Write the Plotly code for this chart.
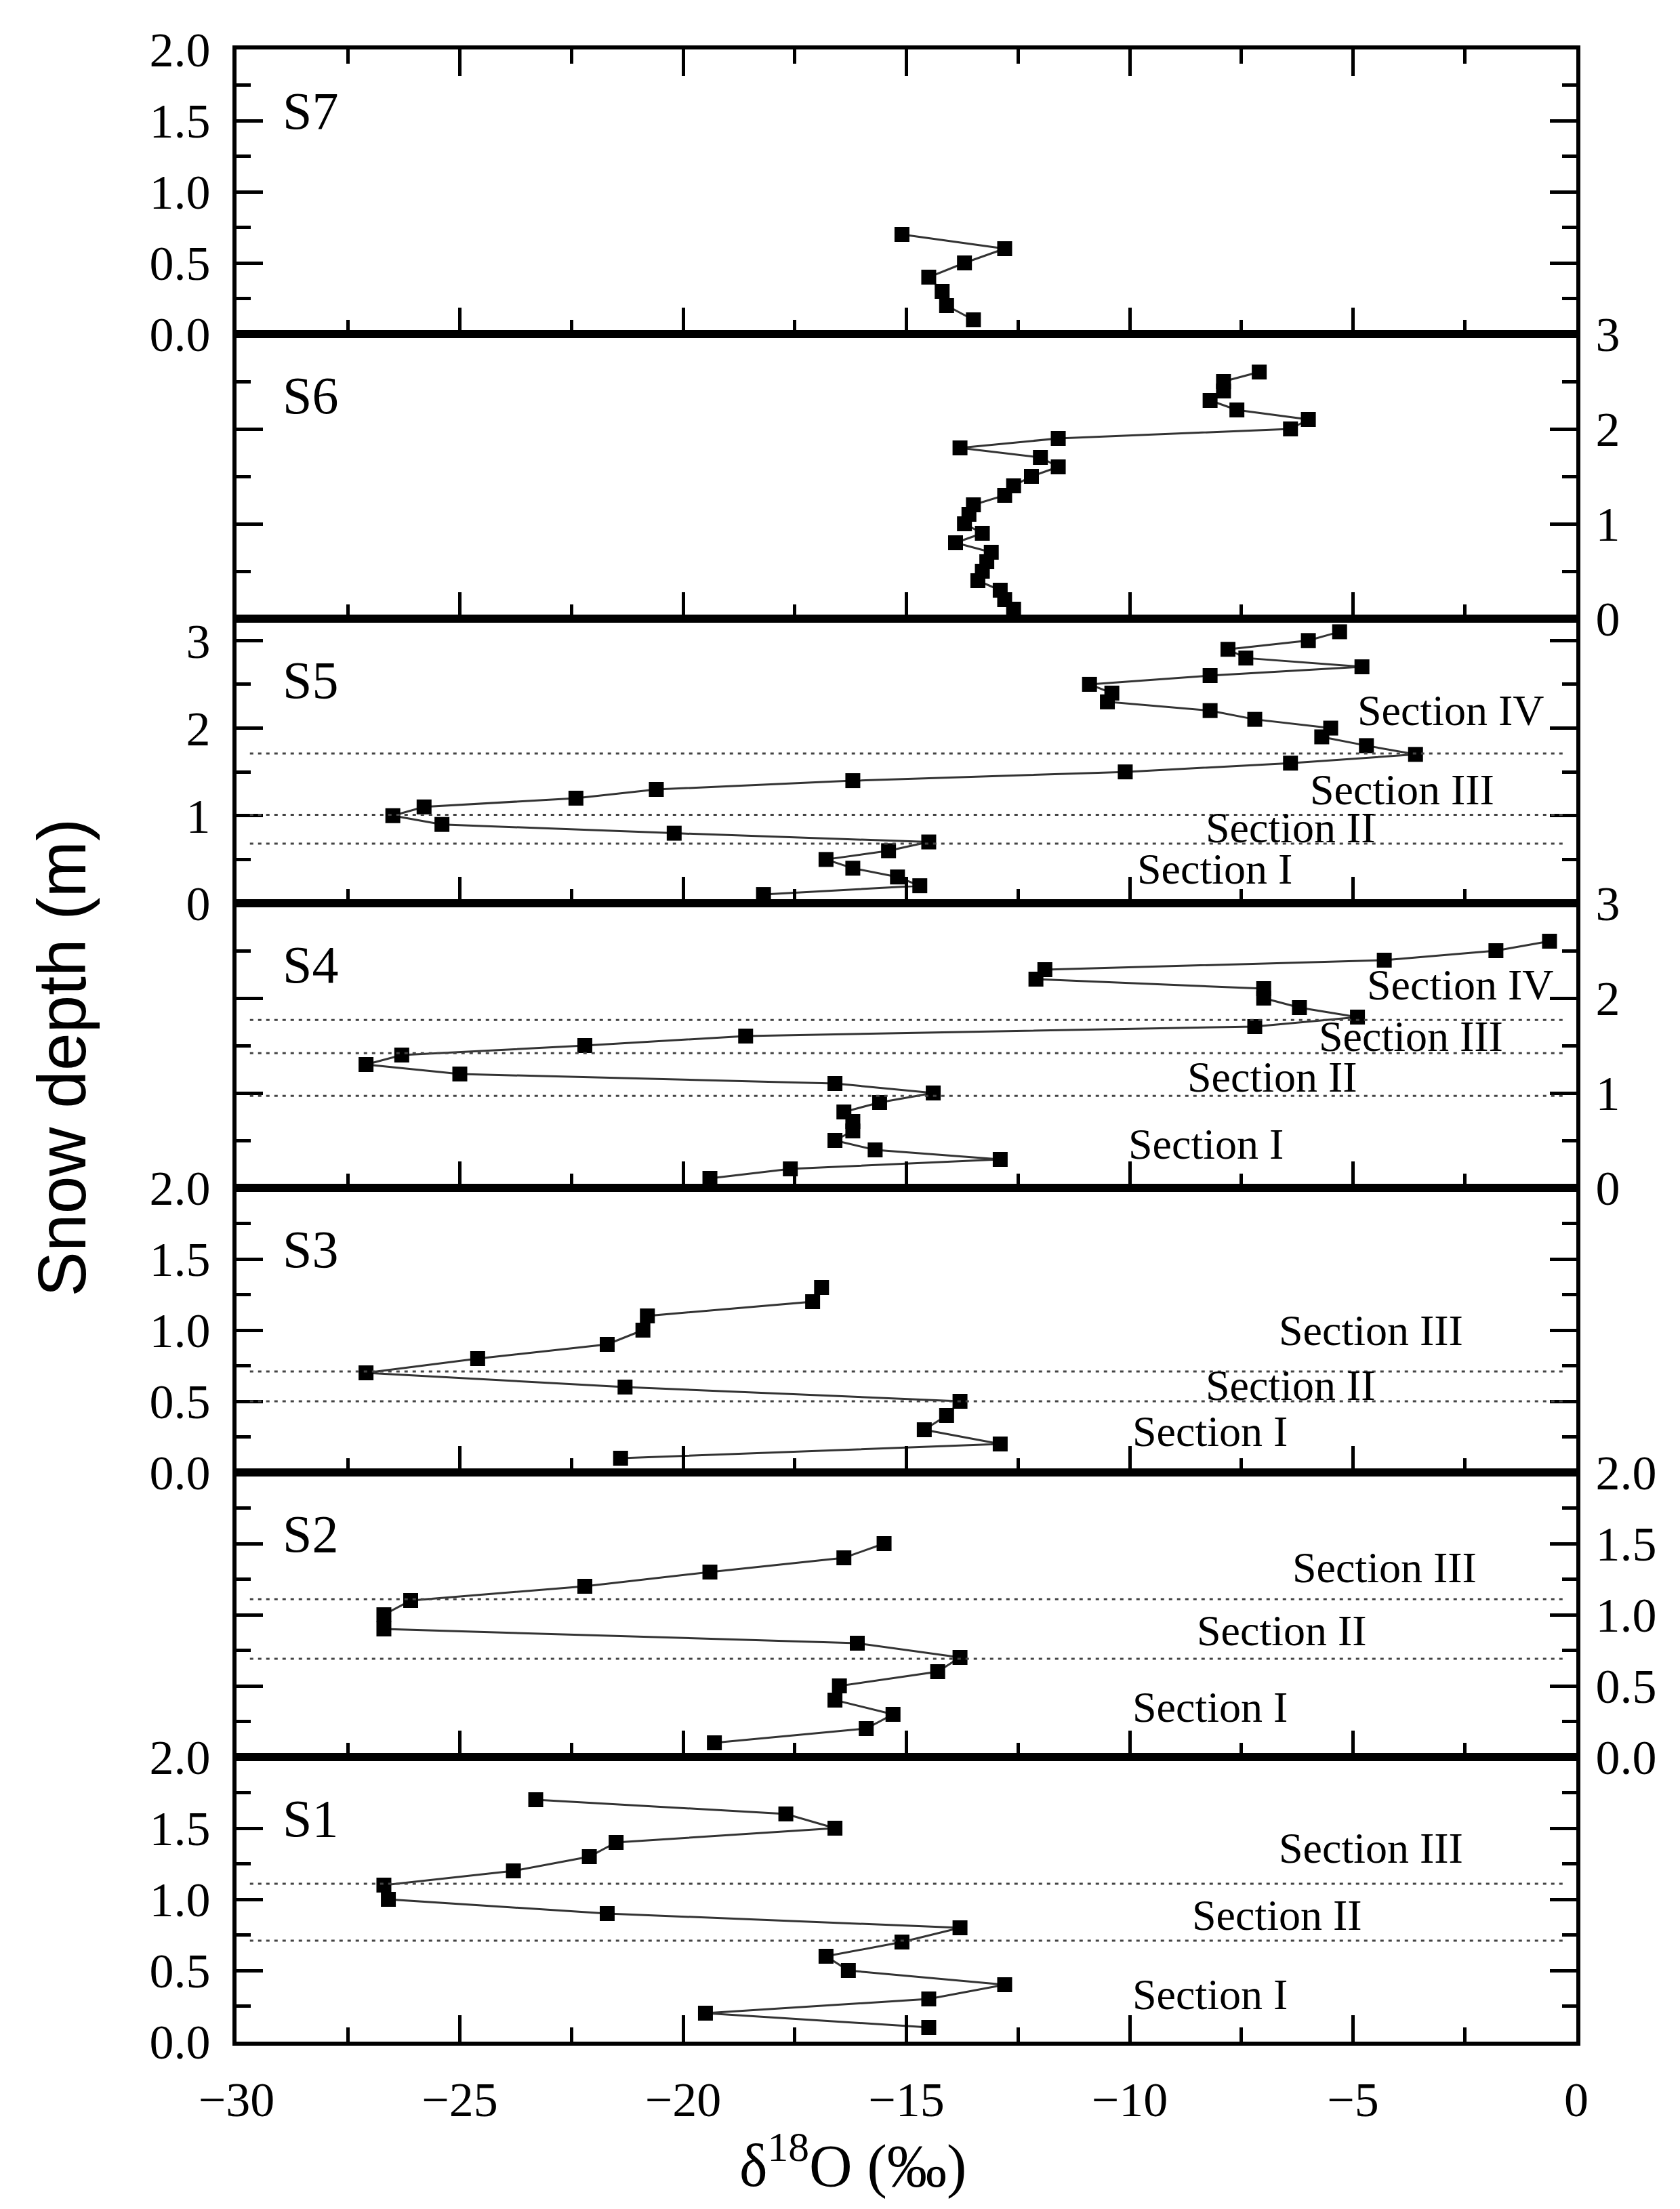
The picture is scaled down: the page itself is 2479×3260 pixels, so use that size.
import plotly.graph_objects as go
from plotly.subplots import make_subplots

# panels from top to bottom
panels = ["S7", "S6", "S5", "S4", "S3", "S2", "S1"]

s7_depth = [0.7, 0.6, 0.5, 0.4, 0.3, 0.2, 0.1]
s7_d18o = [-15.1, -12.8, -13.7, -14.5, -14.2, -14.1, -13.5]

s6_depth = [2.6, 2.5, 2.4, 2.3, 2.2, 2.1, 2.0, 1.9, 1.8, 1.7, 1.6, 1.5, 1.4,
            1.3, 1.2, 1.1, 1.0, 0.9, 0.8, 0.7, 0.6, 0.5, 0.4, 0.3, 0.2, 0.1]
s6_d18o = [-7.1, -7.9, -7.9, -8.2, -7.6, -6.0, -6.4, -11.6, -13.8, -12.0,
           -11.6, -12.2, -12.6, -12.8, -13.5, -13.6, -13.7, -13.3, -13.9,
           -13.1, -13.2, -13.3, -13.4, -12.9, -12.8, -12.6]

s5_depth = [3.1, 3.0, 2.9, 2.8, 2.7, 2.6, 2.5, 2.4, 2.3, 2.2, 2.1, 2.0, 1.9,
            1.8, 1.7, 1.6, 1.5, 1.4, 1.3, 1.2, 1.1, 1.0, 0.9, 0.8, 0.7, 0.6,
            0.5, 0.4, 0.3, 0.2, 0.1]
s5_d18o = [-5.3, -6.0, -7.8, -7.4, -4.8, -8.2, -10.9, -10.4, -10.5, -8.2,
           -7.2, -5.5, -5.7, -4.7, -3.6, -6.4, -10.1, -16.2, -20.6, -22.4,
           -25.8, -26.5, -25.4, -20.2, -14.5, -15.4, -16.8, -16.2, -15.2,
           -14.7, -18.2]

s4_depth = [2.6, 2.5, 2.4, 2.3, 2.2, 2.1, 2.0, 1.9, 1.8, 1.7, 1.6, 1.5, 1.4,
            1.3, 1.2, 1.1, 1.0, 0.9, 0.8, 0.7, 0.6, 0.5, 0.4, 0.3, 0.2, 0.1]
s4_d18o = [-0.6, -1.8, -4.3, -11.9, -12.1, -7.0, -7.0, -6.2, -4.9, -7.2,
           -18.6, -22.2, -26.3, -27.1, -25.0, -16.6, -14.4, -15.6, -16.4,
           -16.2, -16.2, -16.6, -15.7, -12.9, -17.6, -19.4]

s3_depth = [1.3, 1.2, 1.1, 1.0, 0.9, 0.8, 0.7, 0.6, 0.5, 0.4, 0.3, 0.2, 0.1]
s3_d18o = [-16.9, -17.1, -20.8, -20.9, -21.7, -24.6, -27.1, -21.3, -13.8,
           -14.1, -14.6, -12.9, -21.4]

s2_depth = [1.5, 1.4, 1.3, 1.2, 1.1, 1.0, 0.9, 0.8, 0.7, 0.6, 0.5, 0.4, 0.3,
            0.2, 0.1]
s2_d18o = [-15.5, -16.4, -19.4, -22.2, -26.1, -26.7, -26.7, -16.1, -13.8,
           -14.3, -16.5, -16.6, -15.3, -15.9, -19.3]

s1_depth = [1.7, 1.6, 1.5, 1.4, 1.3, 1.2, 1.1, 1.0, 0.9, 0.8, 0.7, 0.6, 0.5,
            0.4, 0.3, 0.2, 0.1]
s1_d18o = [-23.3, -17.7, -16.6, -21.5, -22.1, -23.8, -26.7, -26.6, -21.7,
           -13.8, -15.1, -16.8, -16.3, -12.8, -14.5, -19.5, -14.5]

# dotted section boundaries (m)
s5_bounds = [1.71, 1.01, 0.68]
s4_bounds = [1.77, 1.42, 0.97]
s3_bounds = [0.71, 0.50]
s2_bounds = [1.11, 0.69]
s1_bounds = [1.11, 0.71]

# section labels: (text, d18O, depth)
s5_labels = [("Section IV", -2.8, 2.2), ("Section III", -3.9, 1.3),
             ("Section II", -6.4, 0.86), ("Section I", -8.1, 0.39)]
s4_labels = [("Section IV", -2.6, 2.14), ("Section III", -3.7, 1.6),
             ("Section II", -6.8, 1.17), ("Section I", -8.3, 0.46)]
s3_labels = [("Section III", -4.6, 1.0), ("Section II", -6.4, 0.61),
             ("Section I", -8.2, 0.29)]
s2_labels = [("Section III", -4.3, 1.33), ("Section II", -6.6, 0.89),
             ("Section I", -8.2, 0.35)]
s1_labels = [("Section III", -4.6, 1.36), ("Section II", -6.7, 0.89),
             ("Section I", -8.2, 0.33)]

depths = [s7_depth, s6_depth, s5_depth, s4_depth, s3_depth, s2_depth, s1_depth]
values = [s7_d18o, s6_d18o, s5_d18o, s4_d18o, s3_d18o, s2_d18o, s1_d18o]
bounds = [[], [], s5_bounds, s4_bounds, s3_bounds, s2_bounds, s1_bounds]
labels = [[], [], s5_labels, s4_labels, s3_labels, s2_labels, s1_labels]

yranges = [[0, 2], [0, 3], [0, 3.25], [0, 3], [0, 2], [0, 2], [0, 2]]
ydticks = [0.5, 1, 1, 1, 0.5, 0.5, 0.5]
yformats = [".1f", "d", "d", "d", ".1f", ".1f", ".1f"]
ysides = ["left", "right", "left", "right", "left", "right", "left"]

serif = "Liberation Serif, Times New Roman, serif"
sans = "Liberation Sans, Arial, sans-serif"

fig = make_subplots(rows=7, cols=1, shared_xaxes=True, vertical_spacing=0)

for i in range(7):
    r = i + 1
    fig.add_trace(go.Scatter(x=values[i], y=depths[i], mode="lines+markers",
                             line=dict(color="#333333", width=3),
                             marker=dict(symbol="square", size=22, color="black"),
                             showlegend=False), row=r, col=1)
    for b in bounds[i]:
        fig.add_shape(type="line", x0=-29.7, x1=-0.3, y0=b, y1=b,
                      line=dict(color="#444444", width=3, dash="5px,7px"),
                      row=r, col=1)
    for txt, lx, ly in labels[i]:
        fig.add_annotation(text=txt, x=lx, y=ly, showarrow=False,
                           xanchor="center", yanchor="middle",
                           font=dict(family=serif, size=64, color="black"),
                           row=r, col=1)
    fig.add_annotation(text=panels[i], x=0.055, y=0.785, xref="x domain",
                       yref="y domain", showarrow=False,
                       xanchor="center", yanchor="middle",
                       font=dict(family=serif, size=78, color="black"),
                       row=r, col=1)

    right = ysides[i] == "right"
    fig.update_yaxes(range=yranges[i], dtick=ydticks[i], tickformat=yformats[i],
                     side=ysides[i], showline=True, linecolor="black", linewidth=6,
                     mirror="ticks", ticks="inside", ticklen=39, tickwidth=5,
                     tickcolor="black", ticklabelstandoff=8 if right else 18,
                     minor=dict(dtick=ydticks[i] / 2, ticks="inside", ticklen=21,
                                tickwidth=5, tickcolor="black"),
                     showgrid=False, zeroline=False,
                     tickfont=dict(family=serif, size=72, color="black"),
                     row=r, col=1)
    fig.update_xaxes(range=[-30, 0], dtick=5, showline=True, linecolor="black",
                     linewidth=6, mirror="ticks" if i == 0 else True,
                     ticks="inside", ticklen=39, tickwidth=5, tickcolor="black",
                     minor=dict(dtick=2.5, ticks="inside", ticklen=21,
                                tickwidth=5, tickcolor="black"),
                     showgrid=False, zeroline=False, ticklabelstandoff=18,
                     tickfont=dict(family=serif, size=72, color="black"),
                     row=r, col=1)

fig.add_annotation(text="Snow depth (m)", textangle=-90, x=-0.1305, y=0.494,
                   xref="paper", yref="paper", showarrow=False,
                   xanchor="center", yanchor="middle",
                   font=dict(family=sans, size=100, color="black"))
fig.add_annotation(text="δ<sup>18</sup>O (‰)", x=0.46, y=-0.060,
                   xref="paper", yref="paper", showarrow=False,
                   xanchor="center", yanchor="middle",
                   font=dict(family=serif, size=88, color="black"))

fig.update_layout(width=2479, height=3260,
                  margin=dict(l=341, r=161, t=65, b=255),
                  paper_bgcolor="white", plot_bgcolor="white")

fig.write_html("out.html")
